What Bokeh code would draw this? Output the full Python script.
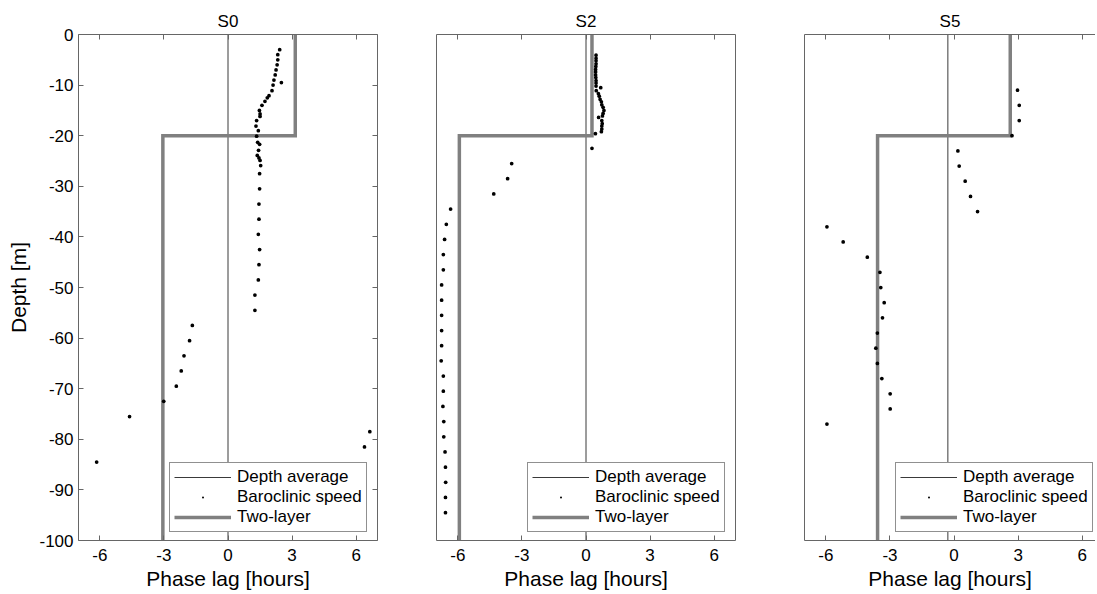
from bokeh.plotting import figure
from bokeh.layouts import row
from bokeh.models import (Range1d, LinearAxis, FixedTicker, Legend, LegendItem,
                          CustomJSTickFormatter, ColumnDataSource)
from bokeh.embed import file_html
from bokeh.resources import INLINE

# ---------------- data ----------------
station_names = ["S0", "S2", "S5"]

s0_depth = [-3.0, -4.0, -5.0, -6.0, -7.0, -8.0, -9.0, -9.5, -10.0, -11.1, -12.1, -12.5,
            -13.2, -14.0, -15.0, -15.7, -16.2, -17.0, -18.1, -19.0, -20.1, -21.3, -21.7,
            -22.9, -23.9, -24.4, -24.9, -25.9,
            -27.5, -30.5, -33.5, -36.5, -39.5, -42.5, -45.5, -48.5, -51.5, -54.5,
            -57.5, -60.5, -63.5, -66.5, -69.5, -72.5, -75.5, -78.5, -81.5, -84.5]
s0_phase = [2.42, 2.33, 2.33, 2.30, 2.25, 2.21, 2.15, 2.50, 2.11, 2.06, 1.92, 1.84,
            1.73, 1.59, 1.47, 1.50, 1.50, 1.34, 1.31, 1.42, 1.34, 1.39, 1.48,
            1.43, 1.37, 1.45, 1.50, 1.53,
            1.48, 1.48, 1.45, 1.45, 1.42, 1.48, 1.45, 1.42, 1.26, 1.26,
            -1.67, -1.80, -2.06, -2.19, -2.42, -3.01, -4.61, 6.64, 6.39, -6.15]

s2_depth = [-4.1, -4.7, -5.2, -5.8, -6.3, -6.9, -7.4, -8.0, -8.5, -9.1, -9.6, -10.2,
            -10.5, -11.1, -11.7, -12.2, -12.8, -13.3, -13.9, -14.4, -15.0, -15.6, -16.1,
            -16.4, -17.0, -17.6, -18.1, -18.7, -19.2, -19.6,
            -22.5, -25.5, -28.5, -31.5, -34.5, -37.5, -40.5, -43.5, -46.5, -49.5,
            -52.5, -55.5, -58.5, -61.5, -64.5, -67.5, -70.5, -73.5, -76.5, -79.5,
            -82.5, -85.5, -88.5, -91.5, -94.5]
s2_phase = [0.47, 0.47, 0.47, 0.47, 0.46, 0.45, 0.45, 0.45, 0.46, 0.47, 0.47, 0.47,
            0.69, 0.48, 0.58, 0.62, 0.66, 0.72, 0.74, 0.80, 0.84, 0.80, 0.77,
            0.59, 0.74, 0.76, 0.74, 0.74, 0.72, 0.44,
            0.28, -3.48, -3.67, -4.32, -6.34, -6.54, -6.62, -6.68, -6.68, -6.76,
            -6.76, -6.76, -6.76, -6.76, -6.78, -6.68, -6.68, -6.70, -6.66, -6.66,
            -6.60, -6.58, -6.57, -6.58, -6.58]

s5_depth = [-11.0, -14.0, -17.0, -20.0, -23.0, -26.0, -29.0, -32.0, -35.0, -38.0,
            -41.0, -44.0, -47.0, -50.0, -53.0, -56.0, -59.0, -62.0, -65.0, -68.0,
            -71.0, -74.0, -77.0]
s5_phase = [2.97, 3.05, 3.05, 2.71, 0.18, 0.24, 0.52, 0.77, 1.10, -5.95,
            -5.19, -4.06, -3.47, -3.43, -3.27, -3.35, -3.59, -3.66, -3.59, -3.38,
            -2.99, -2.99, -5.95]

depth_average = [0.0, 0.0, -0.29]
two_layer_upper = [3.15, 0.28, 2.63]
two_layer_lower = [-3.05, -5.93, -3.58]
interface_depth = -20.0
surface_depth = 0.0
bottom_depth = -100.0

x_ticks = [-6, -3, 0, 3, 6]
x_tick_labels = ["-6", "-3", "0", "3", "6"]
y_ticks = [0, -10, -20, -30, -40, -50, -60, -70, -80, -90, -100]
y_tick_labels = ["0", "-10", "-20", "-30", "-40", "-50", "-60", "-70", "-80", "-90", "-100"]

depths = [s0_depth, s2_depth, s5_depth]
phases = [s0_phase, s2_phase, s5_phase]

# ---------------- style ----------------
FONT = "Liberation Sans"
FRAME = "#666666"
AVG_COLOR = "#3a3a3a"
TWO_COLOR = "#808080"

x_ends = [7.0, 7.0, 6.62]
frame_widths = [299, 299, 291]
borders_left = [78, 30, 35]
borders_right = [29, 34, 0]


def style_axis(ax, ticks, labels=None):
    ax.ticker = FixedTicker(ticks=ticks)
    ax.major_tick_in = 5
    ax.major_tick_out = 0
    ax.minor_tick_line_color = None
    ax.axis_line_color = FRAME
    ax.major_tick_line_color = FRAME
    ax.major_label_text_font = FONT
    ax.major_label_text_font_size = "17px"
    ax.major_label_text_color = "black"
    if labels is None:
        ax.formatter = CustomJSTickFormatter(code="return ''")
        ax.major_label_standoff = 0
    else:
        ax.major_label_overrides = {t: l for t, l in zip(ticks, labels)}


panels = []
for i, name in enumerate(station_names):
    p = figure(output_backend="svg", toolbar_location=None,
               frame_width=frame_widths[i], frame_height=506,
               min_border_left=borders_left[i], min_border_right=borders_right[i],
               min_border_top=34, min_border_bottom=52,
               x_range=Range1d(-7, x_ends[i]), y_range=Range1d(bottom_depth, surface_depth),
               x_axis_location="below", y_axis_location="left")
    p.outline_line_color = None
    p.grid.visible = False
    p.background_fill_color = "white"
    p.border_fill_color = "white"

    p.title.text = name
    p.title.align = "center"
    p.title.text_font = FONT
    p.title.text_font_size = "17px"
    p.title.text_font_style = "normal"
    p.title.text_color = "black"
    p.title.standoff = 7

    # bottom axis
    style_axis(p.xaxis[0], x_ticks, x_tick_labels)
    p.xaxis[0].major_label_standoff = 8
    p.xaxis[0].axis_label = "Phase lag [hours]"
    p.xaxis[0].axis_label_text_font = FONT
    p.xaxis[0].axis_label_text_font_size = "21px"
    p.xaxis[0].axis_label_text_font_style = "normal"
    p.xaxis[0].axis_label_text_color = "black"
    p.xaxis[0].axis_label_standoff = 3

    # top axis
    top = LinearAxis()
    style_axis(top, x_ticks)
    p.add_layout(top, "above")

    # left axis
    if i == 0:
        style_axis(p.yaxis[0], y_ticks, y_tick_labels)
        p.yaxis[0].major_label_standoff = 5
        p.yaxis[0].axis_label = "Depth [m]"
        p.yaxis[0].axis_label_text_font = FONT
        p.yaxis[0].axis_label_text_font_size = "21px"
        p.yaxis[0].axis_label_text_font_style = "normal"
        p.yaxis[0].axis_label_text_color = "black"
        p.yaxis[0].axis_label_standoff = 6
    else:
        style_axis(p.yaxis[0], [])

    # right axis
    if i < 2:
        right = LinearAxis()
        style_axis(right, y_ticks if i == 0 else [])
        p.add_layout(right, "right")

    # depth average (vertical line)
    r_avg = p.line([depth_average[i], depth_average[i]], [surface_depth, bottom_depth],
                   line_color=AVG_COLOR, line_width=1)

    # two-layer model
    up, lo = two_layer_upper[i], two_layer_lower[i]
    r_two = p.line([up, up, lo, lo], [surface_depth, interface_depth, interface_depth, bottom_depth],
                   line_color=TWO_COLOR, line_width=3.5, line_join="miter")

    # baroclinic speed
    src = ColumnDataSource(dict(x=phases[i], y=depths[i]))
    r_dots = p.scatter("x", "y", source=src, marker="dot", size=15,
                       line_color="black", fill_color="black")

    legend = Legend(items=[LegendItem(label="Depth average", renderers=[r_avg]),
                           LegendItem(label="Baroclinic speed", renderers=[r_dots]),
                           LegendItem(label="Two-layer", renderers=[r_two])],
                    location=(91, 8))
    legend.label_text_font = FONT
    legend.label_text_font_size = "17px"
    legend.label_text_color = "black"
    legend.glyph_width = 57
    legend.glyph_height = 20
    legend.label_height = 20
    legend.label_standoff = 6
    legend.spacing = 0
    legend.padding = 4
    legend.margin = 0
    legend.border_line_color = "#222222"
    legend.border_line_width = 1
    legend.background_fill_color = "white"
    legend.background_fill_alpha = 1.0
    p.add_layout(legend)

    panels.append(p)

layout = row(*panels, spacing=0)
open("out.html", "w").write(file_html(layout, INLINE))
